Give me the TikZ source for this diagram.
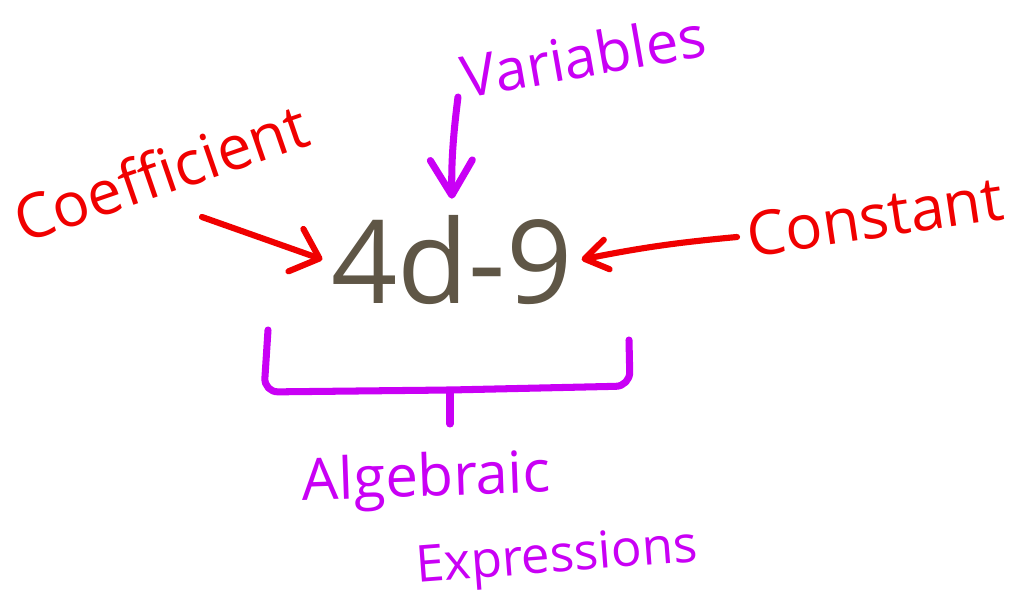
\documentclass[tikz,border=0pt]{standalone}
\usepackage{fontspec}
\setmainfont{Open Sans}
\usetikzlibrary{arrows.meta, calc}
\definecolor{exprbrown}{HTML}{5F5646}
\definecolor{inkred}{HTML}{F00000}
\definecolor{inkpurple}{HTML}{C900F5}
\tikzset{
    termlabel/.style={
        anchor=base,
        inner sep=0pt
    },
    redlabel/.style={termlabel, text=inkred},
    purplelabel/.style={termlabel, text=inkpurple},
    exprtext/.style={anchor=base, inner sep=5pt, text=exprbrown, font=\fontsize{66}{70}\selectfont},
    redarrow/.style={-{Straight Barb[round, length=5mm, width=9mm]}, line width=3.5pt, draw=inkred, line cap=round},
    purplearrow/.style={-{Straight Barb[round, length=7mm, width=8.4mm]}, line width=4pt, draw=inkpurple, line cap=round},
    purpleline/.style={line width=4pt, draw=inkpurple, line cap=round, line join=round}
}
\begin{document}
\begin{tikzpicture}[x=0.02cm, y=-0.02cm]
    \useasboundingbox[fill=white] (0,0) rectangle (1021,598);

    \node[exprtext] (expr) at (452,303) {4d-9};

    \node[redlabel, rotate=19, font=\fontsize{35}{40}\selectfont] (coefficient) at (168,194) {Coefficient};
    \node[purplelabel, rotate=10, font=\fontsize{33}{40}\selectfont] (variables) at (587,77) {Variables};
    \node[redlabel, rotate=8.5, font=\fontsize{35}{40}\selectfont] (constant) at (878,238) {Constant};
    \node[purplelabel, rotate=2, font=\fontsize{33}{40}\selectfont] (algebraic) at (427,496) {Algebraic};
    \node[purplelabel, rotate=4.4, font=\fontsize{29}{34}\selectfont] (expressions) at (558,572) {Expressions};

    \coordinate (coefftail) at (202,217);
    \coordinate (vartail) at (458,97);
    \coordinate (consttail) at (737,237);
    \coordinate (bracemid) at (450,392);

    \draw[redarrow] (coefftail) -- (expr.west);
    \draw[purplearrow, shorten >=4pt] (vartail) to[bend right=4] (expr.north);
    \draw[redarrow, -{Straight Barb[round, length=4.5mm, width=6mm]}] (consttail) to[bend right=3] (expr.east);

    % bracket under the expression
    \draw[purpleline, rounded corners=8pt] (268,330) -- (264,392) -- (450,390) -- (630,386) -- (629,340);
    \draw[purpleline] (bracemid) -- (bracemid |- 0,424);
\end{tikzpicture}
\end{document}
